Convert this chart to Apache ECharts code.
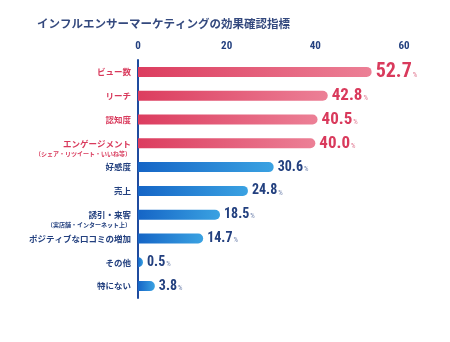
<!DOCTYPE html>
<html><head><meta charset="utf-8">
<script src="https://cdn.jsdelivr.net/npm/echarts@6/dist/echarts.min.js"></script>
<style>html,body{margin:0;padding:0;background:#fff}#c{width:450px;height:342px}</style>
</head><body><div id="c"></div>
<script>
const title = 'インフルエンサーマーケティングの効果確認指標';
const categories = ['ビュー数','リーチ','認知度','エンゲージメント','好感度','売上','誘引・来客','ポジティブな口コミの増加','その他','特にない'];
const subLabels = ['','','','（シェア・リツイート・いいね等）','','','（実店舗・インターネット上）','','',''];
const values = [52.7, 42.8, 40.5, 40.0, 30.6, 24.8, 18.5, 14.7, 0.5, 3.8];
const highlighted = [true, true, true, true, false, false, false, false, false, false];
const xTicks = [0, 20, 40, 60];

const PINK = '#d93a5c', NAVY = '#23407f';
const numFont = '"Roboto Condensed","Open Sans Condensed",sans-serif';
const jpFont = '"Noto Sans CJK JP",sans-serif';

const yData = categories.map((c, i) => ({
  value: c,
  textStyle: subLabels[i] ? { padding: [10, 0, 0, 0] } : {}
}));

const barData = values.map((v, i) => {
  const hi = highlighted[i];
  const big = i === 0;
  return {
    value: v,
    itemStyle: {
      color: new echarts.graphic.LinearGradient(0, 0, 1, 0, hi
        ? [{offset: 0, color: '#dc3d5f'}, {offset: 1, color: '#ec8096'}]
        : [{offset: 0, color: '#1565c6'}, {offset: 1, color: '#3aa2e2'}])
    },
    label: {
      formatter: '{' + (hi ? (big ? 'pb' : 'pv') : 'bv') + '|' + v.toFixed(1) + '}{' + (hi ? 'pp' : 'bp') + '|%}'
    }
  };
});

const chart = echarts.init(document.getElementById('c'), null, {renderer: 'canvas'});
chart.setOption({
  animation: false,
  title: {
    text: title, left: 32, top: 13,
    textStyle: { fontFamily: jpFont, fontSize: 11.5, fontWeight: 'bold', color: '#34497e' }
  },
  grid: { left: 138, right: 46, top: 60, bottom: 44, containLabel: false },
  xAxis: {
    type: 'value', position: 'top', min: 0, max: 60, interval: 20,
    axisLine: { show: false }, axisTick: { show: false }, splitLine: { show: false },
    axisLabel: {
      margin: 8, color: NAVY, fontFamily: numFont, fontWeight: 'bold', fontSize: 11,
      formatter: v => xTicks.includes(v) ? String(v) : ''
    }
  },
  yAxis: {
    type: 'category', inverse: true, data: yData,
    axisLine: { show: true, lineStyle: { color: '#1f4b9e', width: 2 } },
    axisTick: { show: false },
    axisLabel: {
      margin: 7, fontFamily: jpFont,
      formatter: (val, idx) => {
        const key = highlighted[idx] ? 'p' : 'b';
        return subLabels[idx] ? '{' + key + '|' + val + '}\n{' + key + 's|' + subLabels[idx] + '}' : '{' + key + '|' + val + '}';
      },
      rich: {
        p: { color: PINK, fontSize: 8.5, fontWeight: 'bold', lineHeight: 10, fontFamily: jpFont, align: 'right' },
        ps: { color: PINK, fontSize: 6, fontWeight: 'bold', lineHeight: 10, fontFamily: jpFont, align: 'right' },
        b: { color: NAVY, fontSize: 8.5, fontWeight: 'bold', lineHeight: 10, fontFamily: jpFont, align: 'right' },
        bs: { color: NAVY, fontSize: 6, fontWeight: 'bold', lineHeight: 10, fontFamily: jpFont, align: 'right' }
      }
    }
  },
  series: [{
    type: 'bar', data: barData, barWidth: 10, barMinHeight: 5,
    itemStyle: { borderRadius: [0, 5, 5, 0] },
    label: {
      show: true, position: 'right', distance: 4,
      rich: {
        pb: { color: PINK, fontSize: 20, fontWeight: 'bold', fontFamily: numFont },
        pv: { color: PINK, fontSize: 17, fontWeight: 'bold', fontFamily: numFont },
        pp: { color: '#e07890', fontSize: 7, fontFamily: numFont, padding: [6, 0, 0, 1] },
        bv: { color: NAVY, fontSize: 14, fontWeight: 'bold', fontFamily: numFont },
        bp: { color: '#6f82ad', fontSize: 7, fontFamily: numFont, padding: [4, 0, 0, 1] }
      }
    }
  }]
});
</script></body></html>
